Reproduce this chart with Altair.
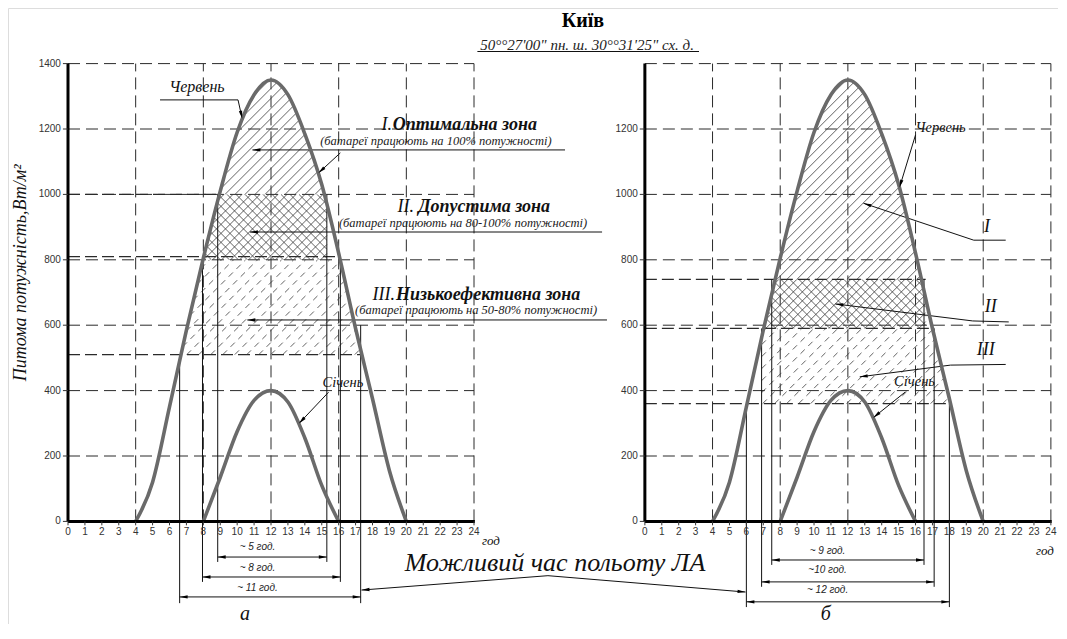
import math
import numpy as np
import pandas as pd
import altair as alt

# ---------------- values ----------------
june_h = [4, 5, 6, 7, 8, 9, 10, 11, 12, 13, 14, 15, 16, 17, 18, 19, 20]
june_v = [0, 120, 350, 585, 805, 1010, 1190, 1305, 1350, 1305, 1185, 1030, 820, 590, 375, 155, 0]
jan_h = [8, 9, 10, 11, 12, 13, 14, 15, 16]
jan_v = [0, 135, 275, 370, 400, 365, 255, 110, 0]

panels = ["a", "b"]
hour_ticks = list(range(0, 25))
power_ticks = {"a": [0, 200, 400, 600, 800, 1000, 1200, 1400],
               "b": [0, 200, 400, 600, 800, 1000, 1200]}
grid_hours = [4, 8, 12, 16, 20, 24]
grid_power = [200, 400, 600, 800, 1000, 1200, 1400]

# zones: panel, lower / upper level, optional hour cut-offs, fill style
zone_panel = ["a", "a", "a", "b", "b", "b"]
zone_low = [1000, 800, 510, 740, 590, 360]
zone_high = [1350, 1000, 800, 1350, 740, 590]
zone_cut_left = [None, None, None, None, None, 6.9]
zone_cut_right = [None, 15.3, None, None, 16.6, None]
zone_fill = ["single", "cross", "dashed", "single", "cross", "dashed"]

# extra dashed level lines: panel, level, end hour
lvl_panel = ["a", "a", "a", "b", "b", "b"]
lvl_value = [1000, 810, 510, 740, 590, 360]
lvl_end = [8.9, 16.1, 17.3, 16.6, 17.1, 18.0]

# extension lines: panel, hour, top, bottom
ext_panel = ["a"] * 6 + ["b"] * 6
ext_hour = [6.6, 7.95, 8.85, 15.3, 16.1, 17.3, 6.0, 6.9, 7.5, 16.5, 17.1, 18.0]
ext_top = [510, 800, 1000, 1000, 810, 600, 360, 590, 740, 740, 590, 360]
ext_bottom = [-250, -185, -124, -124, -185, -250, -262, -200, -133, -133, -200, -262]

# dimension lines
dim_panel = ["a", "a", "a", "b", "b", "b"]
dim_from = [8.85, 7.95, 6.6, 7.5, 6.9, 6.0]
dim_to = [15.3, 16.1, 17.3, 16.5, 17.1, 18.0]
dim_level = [-109, -170, -231, -118, -185, -246]
dim_label = ["~ 5 год.", "~ 8 год.", "~ 11 год.", "~ 9 год.", "~10 год.", "~ 12 год."]
dim_label_h = [11.2, 11.2, 11.2, 10.8, 10.8, 10.8]
dim_label_v = [-78, -142, -204, -90, -149, -210]

# ---------------- layout constants ----------------
SX = 16.917      # px per hour
SY = 0.327       # px per W/m2
W, H = 1050, 616
OFF = {"a": 0.0, "b": 34.1}
X_DOM = [-60 / SX, (W - 60) / SX]
Y_DOM = [(521.4 - (8 + H)) / SY, (521.4 - 8) / SY]
XS = alt.Scale(domain=X_DOM, nice=False, zero=False)
YS = alt.Scale(domain=Y_DOM, nice=False, zero=False)
SERIF = "Liberation Serif"
SANS = "Liberation Sans"
ARROW = "M0,0L2,-0.42L2,0.42Z"


def gx(p, h):
    return h + OFF[p]


# ---------- monotone (d3 monotoneX) curve, used for clipping hatches ----------
def _sg(z):
    return -1 if z < 0 else 1


def dense_curve(x, y, per=60):
    n = len(x)
    t = [0.0] * n
    for i in range(1, n - 1):
        h0 = x[i] - x[i - 1]
        h1 = x[i + 1] - x[i]
        s0 = (y[i] - y[i - 1]) / h0
        s1 = (y[i + 1] - y[i]) / h1
        p = (s0 * h1 + s1 * h0) / (h0 + h1)
        t[i] = (_sg(s0) + _sg(s1)) * min(abs(s0), abs(s1), 0.5 * abs(p))
    t[0] = (3 * (y[1] - y[0]) / (x[1] - x[0]) - t[1]) / 2
    t[-1] = (3 * (y[-1] - y[-2]) / (x[-1] - x[-2]) - t[-2]) / 2
    xs, ys = [], []
    for i in range(n - 1):
        hh = x[i + 1] - x[i]
        for s in np.linspace(0, 1, per, endpoint=False):
            h00 = 2 * s ** 3 - 3 * s ** 2 + 1
            h10 = s ** 3 - 2 * s ** 2 + s
            h01 = -2 * s ** 3 + 3 * s ** 2
            h11 = s ** 3 - s ** 2
            xs.append(x[i] + s * hh)
            ys.append(h00 * y[i] + h10 * hh * t[i] + h01 * y[i + 1] + h11 * hh * t[i + 1])
    xs.append(x[-1])
    ys.append(y[-1])
    return np.array(xs), np.array(ys)


JX, JY = dense_curve(june_h, june_v)
KX, KY = dense_curve(jan_h, jan_v)
pk = int(np.argmax(JY))
JXL, JYL = JX[: pk + 1], np.maximum.accumulate(JY[: pk + 1])
JXR, JYR = JX[pk:], JY[pk:]


def june_left(v):
    return np.interp(v, JYL, JXL)


def june_right(v):
    return np.interp(v, JYR[::-1], JXR[::-1])


def june_at(h):
    return float(np.interp(h, JX, JY))


def jan_at(h):
    return float(np.interp(h, KX, KY))


def hatch(p, y0, y1, cl, cr, slope, spacing):
    vs = np.linspace(y0, y1, 800)
    L = june_left(vs)
    R = june_right(vs)
    if cl is not None:
        L = np.maximum(L, cl)
    if cr is not None:
        R = np.minimum(R, cr)
    if slope > 0:
        cmin = np.min(SX * L - SY * vs)
        cmax = np.max(SX * R - SY * vs)
    else:
        cmin = np.min(SX * L + SY * vs)
        cmax = np.max(SX * R + SY * vs)
    out = []
    c = math.floor(cmin / spacing) * spacing
    while c <= cmax:
        X = (c + SY * vs) / SX if slope > 0 else (c - SY * vs) / SX
        inside = (X >= L) & (X <= R)
        if inside.any():
            idx = np.where(inside)[0]
            i0, i1 = idx[0], idx[-1]
            if abs(vs[i1] - vs[i0]) * SY > 2:
                out.append(dict(x=gx(p, X[i0]), y=vs[i0], x2=gx(p, X[i1]), y2=vs[i1]))
        c += spacing
    return out


# ---------------- build tables ----------------
grid, axes, ticks, ylab, xlab = [], [], [], [], []
for p in panels:
    for h in grid_hours:
        grid.append(dict(x=gx(p, h), y=0, x2=gx(p, h), y2=1400))
    for v in grid_power:
        grid.append(dict(x=gx(p, 0), y=v, x2=gx(p, 24), y2=v))
    axes.append(dict(x=gx(p, 0), y=0, x2=gx(p, 0), y2=1400))
    axes.append(dict(x=gx(p, 0), y=0, x2=gx(p, 24.05), y2=0))
    for v in power_ticks[p]:
        ticks.append(dict(x=gx(p, -0.3), y=v, x2=gx(p, 0), y2=v))
        ylab.append(dict(x=gx(p, -0.42), y=v, t=str(v)))
    for h in hour_ticks:
        ticks.append(dict(x=gx(p, h), y=0, x2=gx(p, h), y2=-12))
        xlab.append(dict(x=gx(p, h), y=-32, t=str(h)))

levels = [dict(x=gx(p, 0), y=v, x2=gx(p, e), y2=v) for p, v, e in zip(lvl_panel, lvl_value, lvl_end)]

solid_hatch, dash_hatch = [], []
for p, lo, hi, cl, cr, f in zip(zone_panel, zone_low, zone_high, zone_cut_left, zone_cut_right, zone_fill):
    if f == "single":
        solid_hatch += hatch(p, lo, hi, cl, cr, 1, 10)
    elif f == "cross":
        solid_hatch += hatch(p, lo, hi, cl, cr, 1, 9)
        solid_hatch += hatch(p, lo, hi, cl, cr, -1, 9)
    else:
        dash_hatch += hatch(p, lo, hi, cl, cr, 1, 12)

curves = []
for p in panels:
    for h, v in zip(june_h, june_v):
        curves.append(dict(x=gx(p, h), y=v, k=p + "-june"))
    for h, v in zip(jan_h, jan_v):
        curves.append(dict(x=gx(p, h), y=v, k=p + "-jan"))

thin = []
arrows = []


def arrow(xt, yt, xf, yf):
    dx = (xf - xt) * SX
    dy = -(yf - yt) * SY
    ang = math.degrees(math.atan2(dy, dx)) % 360
    arrows.append(dict(x=xt, y=yt, a=ang))


for p, h, t, b in zip(ext_panel, ext_hour, ext_top, ext_bottom):
    thin.append(dict(x=gx(p, h), y=t, x2=gx(p, h), y2=b))

dim_txt = []
for p, a, b, lv, lab, th, tv in zip(dim_panel, dim_from, dim_to, dim_level, dim_label, dim_label_h, dim_label_v):
    thin.append(dict(x=gx(p, a), y=lv, x2=gx(p, b), y2=lv))
    arrow(gx(p, a), lv, gx(p, b), lv)
    arrow(gx(p, b), lv, gx(p, a), lv)
    dim_txt.append(dict(x=gx(p, th), y=tv, t=lab))


def poly(pts, tip=True):
    for (x0, y0), (x1, y1) in zip(pts[:-1], pts[1:]):
        thin.append(dict(x=x0, y=y0, x2=x1, y2=y1))
    if tip:
        (xa, ya), (xb, yb) = pts[-1], pts[-2]
        arrow(xa, ya, xb, yb)


# zone leaders, left panel
poly([(gx("a", 29.38), 1136), (gx("a", 10.9), 1136)])
poly([(gx("a", 31.57), 885), (gx("a", 10.75), 885)])
poly([(gx("a", 31.86), 616), (gx("a", 10.6), 616)])
poly([(gx("a", 16.1), 1127), (gx("a", 14.8), june_at(14.8))])
# curve labels leaders
poly([(gx("a", 5.44), 1289), (gx("a", 10.05), 1289), (gx("a", 10.3), june_at(10.3))])
poly([(gx("a", 15.4), 395), (gx("a", 13.65), jan_at(13.65))])
poly([(gx("b", 16.0), 1182), (gx("b", 15.05), june_at(15.05))])
poly([(gx("b", 15.4), 396), (gx("b", 13.5), jan_at(13.5))])
# zone leaders, right panel
poly([(gx("b", 21.33), 860), (gx("b", 19.44), 860), (gx("b", 12.92), 973)])
poly([(gx("b", 21.51), 610), (gx("b", 19.38), 613), (gx("b", 11.26), 665)])
poly([(gx("b", 21.33), 480), (gx("b", 18.07), 478), (gx("b", 12.7), 442)])
# common caption leaders
poly([(28.37, -166), (gx("a", 17.35), -210)])
poly([(28.37, -166), (gx("b", 5.95), -216)])
# underline of coordinates
thin.append(dict(x=24.2, y=1437, x2=37.3, y2=1437))


# ---------------- chart ----------------
def enc_rule(rows, **kw):
    return alt.Chart(pd.DataFrame(rows)).mark_rule(**kw).encode(
        x=alt.X("x:Q", scale=XS, axis=None), x2="x2:Q",
        y=alt.Y("y:Q", scale=YS, axis=None), y2="y2:Q")


def enc_text(rows, **kw):
    return alt.Chart(pd.DataFrame(rows)).mark_text(**kw).encode(
        x=alt.X("x:Q", scale=XS, axis=None), y=alt.Y("y:Q", scale=YS, axis=None), text="t:N")


layers = [
    enc_rule(grid, color="#2a2a2a", strokeWidth=1, strokeDash=[12, 6]),
    enc_rule(levels, color="#2a2a2a", strokeWidth=1.2, strokeDash=[12, 5]),
    enc_rule(solid_hatch, color="#3a3a3a", strokeWidth=0.8),
    enc_rule(dash_hatch, color="#3a3a3a", strokeWidth=0.8, strokeDash=[6, 5]),
    enc_rule(thin, color="#111111", strokeWidth=1),
    alt.Chart(pd.DataFrame(curves)).mark_line(color="#6a6a6a", strokeWidth=3.6, interpolate="monotone").encode(
        x=alt.X("x:Q", scale=XS, axis=None), y=alt.Y("y:Q", scale=YS, axis=None), detail="k:N"),
    enc_rule(axes, color="#000000", strokeWidth=3),
    enc_rule(ticks, color="#333333", strokeWidth=1),
    alt.Chart(pd.DataFrame(arrows)).mark_point(shape=ARROW, filled=True, size=64, color="#000000", opacity=1).encode(
        x=alt.X("x:Q", scale=XS, axis=None), y=alt.Y("y:Q", scale=YS, axis=None),
        angle=alt.Angle("a:Q", scale=None)),
    enc_text(ylab, font=SANS, fontSize=10, color="#333333", align="right", baseline="middle"),
    enc_text(xlab, font=SANS, fontSize=10, color="#333333", align="center", baseline="middle"),
    enc_text(dim_txt, font=SANS, fontSize=10, fontStyle="italic", color="#222222", align="center", baseline="middle"),
    # title
    enc_text([dict(x=30.44, y=1531, t="Київ")], font=SERIF, fontSize=20, fontWeight="bold",
             color="#000000", align="center", baseline="middle"),
    enc_text([dict(x=30.68, y=1458, t="50°°27'00\" пн. ш. 30°°31'25\" сх. д.")], font=SERIF, fontSize=15,
             fontStyle="italic", color="#222222", align="center", baseline="middle"),
    # y axis title
    enc_text([dict(x=-2.78, y=760, t="Питома потужність,Вт/м²")], font=SERIF, fontSize=18,
             fontStyle="italic", angle=270, color="#111111", align="center", baseline="middle"),
    # zone numerals and names
    enc_text([dict(x=19.15, y=1212, t="I."), dict(x=20.45, y=961, t="II."), dict(x=19.33, y=692, t="III.")],
             font=SERIF, fontSize=18, fontStyle="italic", color="#111111", align="right", baseline="middle"),
    enc_text([dict(x=19.2, y=1212, t="Оптимальна зона"), dict(x=20.7, y=961, t="Допустима зона"),
              dict(x=19.39, y=692, t="Низькоефективна зона")],
             font=SERIF, fontSize=18, fontStyle="italic", fontWeight="bold", color="#111111",
             align="left", baseline="middle"),
    enc_text([dict(x=21.75, y=1163, t="(батареї працюють на  100% потужності)"),
              dict(x=23.35, y=913, t="(батареї працюють на  80-100% потужності)"),
              dict(x=24.12, y=647, t="(батареї працюють на 50-80% потужності)")],
             font=SERIF, fontSize=12.5, fontStyle="italic", color="#222222", align="center", baseline="middle"),
    # curve labels
    enc_text([dict(x=7.62, y=1329, t="Червень")], font=SERIF, fontSize=16, fontStyle="italic",
             color="#111111", align="center", baseline="middle"),
    enc_text([dict(x=16.25, y=423, t="Січень"), dict(x=gx("b", 17.48), y=1203, t="Червень"),
              dict(x=gx("b", 15.94), y=427, t="Січень")],
             font=SERIF, fontSize=14.5, fontStyle="italic", color="#111111", align="center", baseline="middle"),
    # roman numerals right panel
    enc_text([dict(x=gx("b", 20.22), y=901, t="I"), dict(x=gx("b", 20.44), y=657, t="II"),
              dict(x=gx("b", 20.15), y=524, t="III")],
             font=SERIF, fontSize=18, fontStyle="italic", color="#111111", align="center", baseline="middle"),
    # hour unit
    enc_text([dict(x=25.0, y=-60, t="год"), dict(x=gx("b", 23.65), y=-90, t="год")],
             font=SERIF, fontSize=13, fontStyle="italic", color="#111111", align="center", baseline="middle"),
    enc_text([dict(x=28.79, y=-128, t="Можливий  час польоту ЛА")], font=SERIF, fontSize=26,
             fontStyle="italic", color="#111111", align="center", baseline="middle"),
    enc_text([dict(x=10.46, y=-283, t="а"), dict(x=gx("b", 10.7), y=-283, t="б")], font=SERIF, fontSize=20,
             fontStyle="italic", color="#111111", align="center", baseline="middle"),
]

chart = alt.layer(*layers).properties(
    width=W, height=H, autosize=alt.AutoSizeParams(type="none"), padding=0
).configure_view(stroke=None).configure(background="white")

chart.save("out.html", embed_options={"renderer": "svg", "actions": False})
